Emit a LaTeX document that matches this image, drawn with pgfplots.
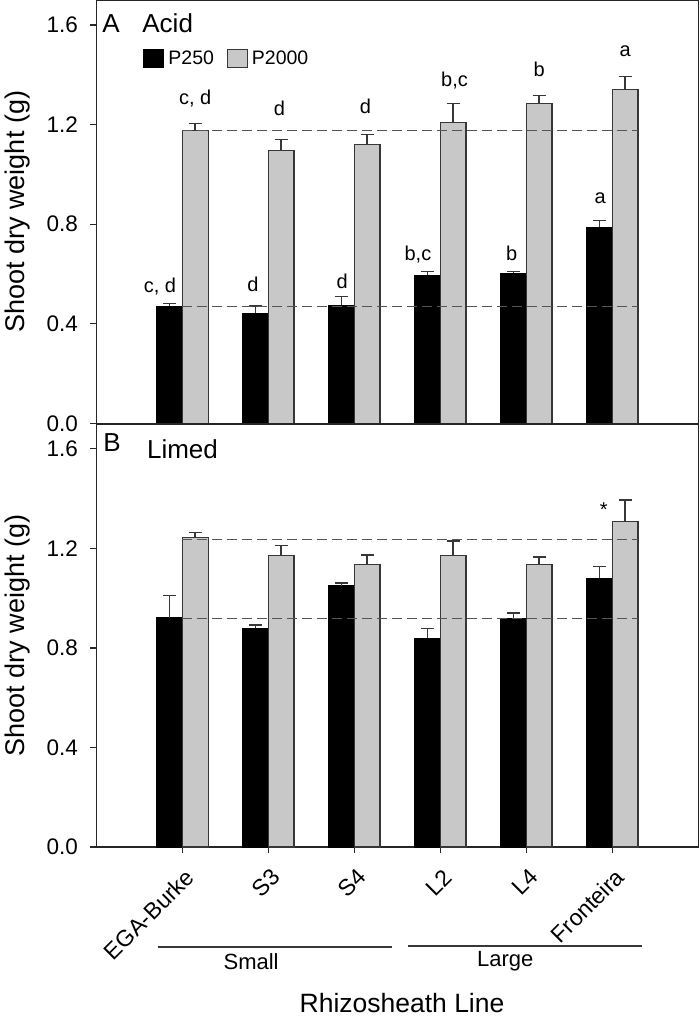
\documentclass[border=0pt]{standalone}
\usepackage{fontspec}
\setmainfont{Liberation Sans}
\usepackage{pgfplots}
\usepackage{pgfplotstable}
\pgfplotsset{compat=1.18}
\definecolor{barg}{RGB}{200,200,200}
\definecolor{edge}{RGB}{55,55,55}
\definecolor{dashc}{RGB}{85,85,85}

\pgfplotstableread{
x a ae b be
0 0.471 0.011 1.175 0.030
1 0.442 0.030 1.095 0.046
2 0.475 0.034 1.121 0.040
3 0.595 0.016 1.207 0.077
4 0.603 0.008 1.284 0.033
5 0.787 0.028 1.341 0.051
}\acid

\pgfplotstableread{
x a ae b be
0 0.922 0.088 1.245 0.019
1 0.879 0.013 1.173 0.038
2 1.049 0.012 1.135 0.038
3 0.839 0.040 1.170 0.060
4 0.918 0.023 1.135 0.031
5 1.080 0.048 1.308 0.086
}\limed

\pgfplotsset{
  panel/.style={
    ybar, bar width=12.9pt,
    scale only axis, width=301pt,
    xmin=-1, xmax=6, ymin=0, ymax=1.7,
    ytick={0,0.4,0.8,1.2,1.6},
    /pgf/number format/fixed,
    /pgf/number format/fixed zerofill,
    /pgf/number format/precision=1,
    /pgf/number format/assume math mode=true,
    tick align=outside, ytick pos=left, xtick pos=left,
    major tick length=3pt,
    tick style={black!85, line width=0.6pt},
    axis line style={black!85, line width=0.6pt},
    yticklabel style={font=\fontsize{11.25}{13}\selectfont, anchor=east, inner sep=0pt, xshift=-6pt},
    ylabel={Shoot dry weight (g)},
    ylabel style={at={(axis description cs:-0.1525,0.5)}, anchor=north, inner sep=0pt, font=\fontsize{13.5}{16}\selectfont},
    clip=false,
  },
  errs/.style={
    /pgfplots/error bars/y dir=plus,
    /pgfplots/error bars/y explicit,
    /pgfplots/error bars/error mark=|,
    /pgfplots/error bars/error bar style={edge, line width=0.7pt},
    /pgfplots/error bars/error mark options={edge, line width=0.7pt, mark size=3.25pt}},
  blk/.style={bar shift=-6.45pt, fill=black, draw=black, line width=0.5pt, errs},
  gry/.style={bar shift=6.45pt, fill=barg, draw=edge, line width=0.6pt, errs},
  dsh/.style={sharp plot, dashc, line width=0.6pt, dash pattern=on 5pt off 2.5pt, forget plot, mark=none},
}

\begin{document}
\begin{tikzpicture}
\path[use as bounding box] (0,0) rectangle (350pt,-511pt);

% ---------- Panel A ----------
\begin{axis}[panel, height=211.75pt,
  at={(48.15pt,-211.75pt)}, anchor=south west,
  xtick=\empty,
  legend columns=2,
  legend style={at={(rel axis cs:0.0776,0.8914)}, anchor=north west, draw=none, fill=none,
    inner sep=0pt, font=\fontsize{9.75}{11}\selectfont,
    /tikz/every even column/.append style={column sep=4.5pt}},
  legend image code/.code={\draw[#1, line width=0.5pt] (0pt,-4.5pt) rectangle (10pt,4.5pt);},
]
\addplot[blk] table[x=x, y=a, y error=ae] {\acid};
\addlegendentry{P250}
\addplot[gry] table[x=x, y=b, y error=be] {\acid};
\addlegendentry{P2000}
\addplot[dsh] coordinates {(0,1.177) (5.3,1.177)};
\addplot[dsh] coordinates {(0,0.471) (5.3,0.471)};

\node[anchor=base west, inner sep=0pt, font=\fontsize{13}{15}\selectfont] at (rel axis cs:0.0095,0.9244) {A};
\node[anchor=base west, inner sep=0pt, font=\fontsize{13}{15}\selectfont] at (rel axis cs:0.0759,0.9244) {Acid};

\begin{scope}[every node/.style={anchor=base, inner sep=0pt, font=\fontsize{10}{12}\selectfont}]
\node at (axis cs:-0.26,0.526) {c, d};
\node at (axis cs:0.82,0.530) {d};
\node at (axis cs:1.86,0.542) {d};
\node at (axis cs:2.74,0.654) {b,c};
\node at (axis cs:3.83,0.654) {b};
\node at (axis cs:4.86,0.882) {a};
\node at (axis cs:0.15,1.282) {c, d};
\node at (axis cs:1.13,1.235) {d};
\node at (axis cs:2.13,1.246) {d};
\node at (axis cs:3.165,1.353) {b,c};
\node at (axis cs:4.15,1.393) {b};
\node at (axis cs:5.15,1.474) {a};
\end{scope}
\end{axis}

% ---------- Panel B ----------
\begin{axis}[panel, height=211.5pt,
  at={(48.15pt,-423.5pt)}, anchor=south west,
  xtick={0,1,2,3,4,5},
  xticklabels={EGA-Burke,S3,S4,L2,L4,Fronteira},
  xticklabel style={font=\fontsize{11.5}{13}\selectfont, inner sep=0pt, anchor=east, xshift=4pt, yshift=-10pt, rotate=45},
  xlabel={Rhizosheath Line},
  xlabel style={at={(axis cs:2.555,-0.667)}, anchor=base, inner sep=0pt, font=\fontsize{13.25}{16}\selectfont},
]
\addplot[forget plot, blk] table[x=x, y=a, y error=ae] {\limed};
\addplot[forget plot, gry] table[x=x, y=b, y error=be] {\limed};
\addplot[dsh] coordinates {(0,1.236) (5.3,1.236)};
\addplot[dsh] coordinates {(0,0.919) (5.3,0.919)};

\addplot[sharp plot, edge, line width=1pt, forget plot, mark=none] coordinates {(-0.283,-0.402) (2.438,-0.402)};
\addplot[sharp plot, edge, line width=1pt, forget plot, mark=none] coordinates {(2.63,-0.398) (5.345,-0.398)};
\node[anchor=base, inner sep=0pt, font=\fontsize{11}{13}\selectfont] at (axis cs:0.80,-0.494) {Small};
\node[anchor=base, inner sep=0pt, font=\fontsize{11}{13}\selectfont] at (axis cs:3.755,-0.479) {Large};

\node[anchor=base west, inner sep=0pt, font=\fontsize{13}{15}\selectfont] at (rel axis cs:0.011,0.936) {B};
\node[anchor=base west, inner sep=0pt, font=\fontsize{13}{15}\selectfont] at (rel axis cs:0.0837,0.9196) {Limed};
\node[inner sep=0pt, font=\fontsize{10}{12}\selectfont] at (axis cs:4.90,1.355) {*};
\end{axis}
\end{tikzpicture}
\end{document}
